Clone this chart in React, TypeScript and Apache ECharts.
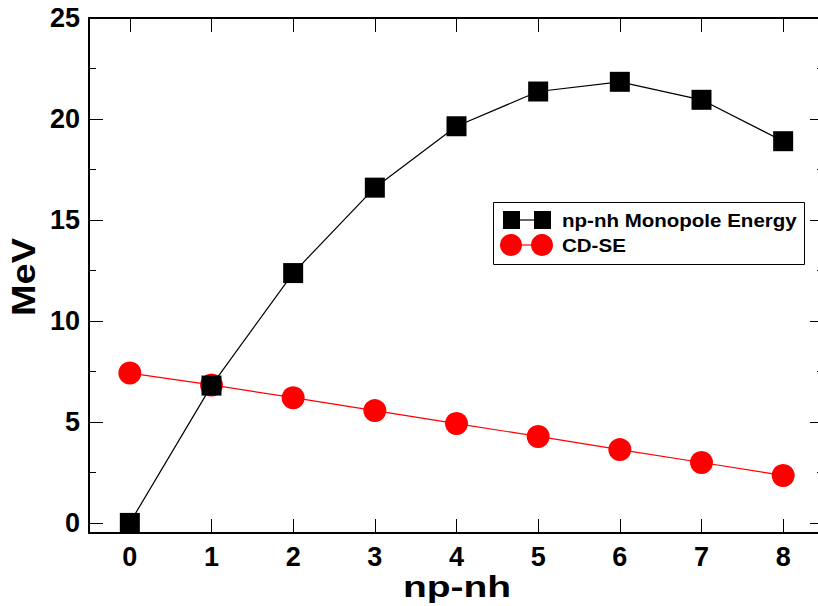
import React, { useEffect, useRef } from "react";
import * as echarts from "echarts";

const npnh = [0, 1, 2, 3, 4, 5, 6, 7, 8];
const monopoleEnergy = [0, 6.8, 12.37, 16.6, 19.64, 21.36, 21.84, 20.95, 18.9];
const cdse = [7.42, 6.83, 6.2, 5.56, 4.92, 4.28, 3.63, 2.99, 2.35];
const xTicks = [0, 1, 2, 3, 4, 5, 6, 7, 8];
const yTicks = [0, 5, 10, 15, 20, 25];
const yMinorTicks = [2.5, 7.5, 12.5, 17.5, 22.5];
const xTitle = "np-nh";
const yTitle = "MeV";
const seriesNames = ["np-nh Monopole Energy", "CD-SE"];

const FONT = "Liberation Sans, Arial, Helvetica, sans-serif";

export default function App() {
  const ref = useRef<HTMLDivElement>(null);
  useEffect(() => {
    if (!ref.current) return;
    const chart = echarts.init(ref.current, null, { renderer: "svg" });
    const baseX = { type: "value", min: -0.5, max: 8.5, gridIndex: 0, splitLine: { show: false } };
    const baseY = { type: "value", min: -0.5, max: 25, gridIndex: 0, splitLine: { show: false } };
    const line = { show: true, onZero: false, lineStyle: { color: "#000", width: 2 } };
    const noLine = { show: false, onZero: false };
    chart.setOption({
      animation: false,
      backgroundColor: "#fff",
      grid: { left: 89, top: 18, width: 735, height: 515, containLabel: false, outerBoundsMode: "none" },
      xAxis: [
        {
          ...baseX,
          position: "bottom",
          axisLine: line,
          axisTick: { show: true, inside: true, length: 14, customValues: xTicks, lineStyle: { color: "#000", width: 1 } },
          axisLabel: { show: true, customValues: xTicks, margin: 10, fontSize: 27, fontWeight: "bold", color: "#000", fontFamily: FONT },
        },
        {
          ...baseX,
          position: "top",
          axisLine: line,
          axisTick: { show: true, inside: true, length: 14, customValues: xTicks, lineStyle: { color: "#000", width: 1 } },
          axisLabel: { show: false },
        },
      ],
      yAxis: [
        {
          ...baseY,
          position: "left",
          axisLine: line,
          axisTick: { show: true, inside: true, length: 14, customValues: yTicks, lineStyle: { color: "#000", width: 1 } },
          axisLabel: { show: true, customValues: yTicks, margin: 9, fontSize: 27, fontWeight: "bold", color: "#000", fontFamily: FONT },
        },
        {
          ...baseY,
          position: "left",
          axisLine: noLine,
          axisTick: { show: true, inside: true, length: 7, customValues: yMinorTicks, lineStyle: { color: "#000", width: 1 } },
          axisLabel: { show: false },
        },
        {
          ...baseY,
          position: "right",
          axisLine: line,
          axisTick: { show: true, inside: true, length: 14, customValues: yTicks, lineStyle: { color: "#000", width: 1 } },
          axisLabel: { show: false },
        },
        {
          ...baseY,
          position: "right",
          axisLine: noLine,
          axisTick: { show: true, inside: true, length: 7, customValues: yMinorTicks, lineStyle: { color: "#000", width: 1 } },
          axisLabel: { show: false },
        },
      ],
      series: [
        {
          name: seriesNames[0],
          type: "line",
          xAxisIndex: 0,
          yAxisIndex: 0,
          data: npnh.map((x, i) => [x, monopoleEnergy[i]]),
          symbol: "rect",
          symbolSize: 20,
          itemStyle: { color: "#000" },
          lineStyle: { color: "#000", width: 1.2 },
          z: 3,
        },
        {
          name: seriesNames[1],
          type: "line",
          xAxisIndex: 0,
          yAxisIndex: 0,
          data: npnh.map((x, i) => [x, cdse[i]]),
          symbol: "circle",
          symbolSize: 23,
          itemStyle: { color: "#ff0000" },
          lineStyle: { color: "#ff0000", width: 1.2 },
          z: 2,
        },
      ],
      graphic: [
        {
          type: "text",
          x: 457,
          y: 587,
          scaleX: 1.3,
          style: { text: xTitle, fill: "#000", font: `bold 30px ${FONT}`, align: "center", verticalAlign: "middle" },
          z: 12,
        },
        {
          type: "text",
          x: 24,
          y: 277,
          rotation: Math.PI / 2,
          scaleX: 1.15,
          style: { text: yTitle, fill: "#000", font: `bold 33px ${FONT}`, align: "center", verticalAlign: "middle" },
          z: 12,
        },
        {
          type: "rect",
          shape: { x: 493.5, y: 202.5, width: 311, height: 62 },
          style: { fill: "#fff", stroke: "#000", lineWidth: 1 },
          z: 10,
        },
        { type: "line", shape: { x1: 511, y1: 220, x2: 542, y2: 220 }, style: { stroke: "#000", lineWidth: 1.2 }, z: 11 },
        { type: "rect", shape: { x: 503, y: 211, width: 17, height: 18 }, style: { fill: "#000" }, z: 12 },
        { type: "rect", shape: { x: 534, y: 211, width: 17, height: 18 }, style: { fill: "#000" }, z: 12 },
        {
          type: "text",
          x: 562,
          y: 220,
          scaleX: 1.08,
          style: { text: seriesNames[0], fill: "#000", font: `bold 19px ${FONT}`, verticalAlign: "middle" },
          z: 12,
        },
        { type: "line", shape: { x1: 511, y1: 245, x2: 542, y2: 245 }, style: { stroke: "#ff0000", lineWidth: 1.2 }, z: 11 },
        { type: "circle", shape: { cx: 511, cy: 245, r: 11 }, style: { fill: "#ff0000" }, z: 12 },
        { type: "circle", shape: { cx: 542, cy: 245, r: 11 }, style: { fill: "#ff0000" }, z: 12 },
        {
          type: "text",
          x: 562,
          y: 245,
          scaleX: 1.08,
          style: { text: seriesNames[1], fill: "#000", font: `bold 19px ${FONT}`, verticalAlign: "middle" },
          z: 12,
        },
      ],
    });
    return () => chart.dispose();
  }, []);
  return (
    <div
      ref={ref}
      style={{ position: "fixed", left: 0, top: 0, width: 818, height: 606, background: "#fff" }}
    />
  );
}
